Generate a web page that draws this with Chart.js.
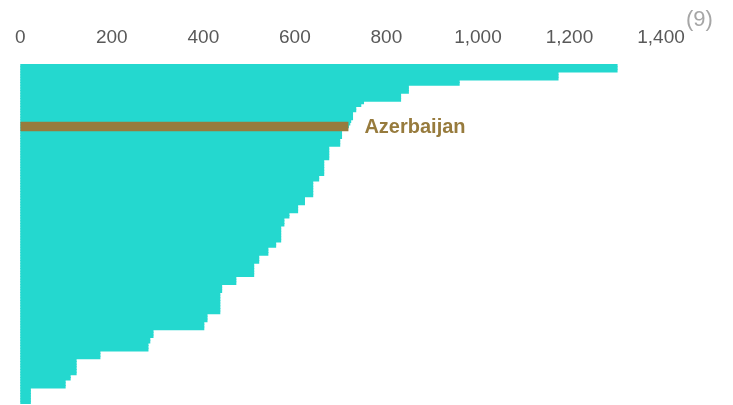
<!DOCTYPE html>
<html>
<head>
<meta charset="utf-8">
<script src="https://cdn.jsdelivr.net/npm/chart.js@4"></script>
<style>
  html, body { margin: 0; padding: 0; background: #ffffff; }
  #wrap { width: 733px; height: 405px; position: relative; }
</style>
</head>
<body>
<div id="wrap"><canvas id="c" width="733" height="405"></canvas></div>
<script>
// ---- data ----
const highlightName = 'Azerbaijan';
const highlightIndex = 23;
const values = [
  1304, 1304, 1304,
  1175, 1175, 1175,
  959, 959,
  848, 848, 848,
  831, 831, 831,
  750,
  744,
  733, 733,
  726, 726, 726,
  722,
  720,
  717,
  707,
  702, 702, 702,
  698, 698, 698,
  674, 674, 674, 674, 674,
  663, 663, 663, 663, 663, 663,
  652, 652,
  639, 639, 639, 639, 639, 639,
  621, 621, 621,
  606, 606, 606,
  587, 587,
  576, 576, 576,
  569, 569, 569, 569, 569, 569,
  558, 558,
  541, 541, 541,
  521, 521, 521,
  510, 510, 510, 510, 510,
  471, 471, 471,
  440, 440, 440,
  436, 436, 436, 436, 436, 436, 436, 436,
  408, 408, 408,
  401, 401, 401,
  290, 290, 290,
  283, 283,
  279, 279, 279,
  174, 174, 174,
  122, 122, 122, 122, 122, 122,
  109, 109,
  98, 98, 98,
  22, 22, 22, 22, 22, 22
];
const categories = values.map((v, i) => i === highlightIndex ? highlightName : 'Rank ' + (i + 1));
const tickValues = [0, 200, 400, 600, 800, 1000, 1200, 1400];
const footnote = '(9)';

const highlightValues = values.map((v, i) => i === highlightIndex ? v : null);

const TEAL = '#24d8cf';
const GOLD = '#977b3d';
const FONT = "'Liberation Sans', Arial, sans-serif";

const labelPlugin = {
  id: 'labels',
  afterDatasetsDraw(chart) {
    const ctx = chart.ctx;
    const meta = chart.getDatasetMeta(1);
    const el = meta.data[highlightIndex];
    if (el) {
      ctx.save();
      ctx.font = "bold 20px 'Liberation Sans', Arial, sans-serif";
      ctx.fillStyle = GOLD;
      ctx.textAlign = 'left';
      ctx.textBaseline = 'middle';
      ctx.fillText(highlightName, el.x + 16, el.y + 1);
      ctx.restore();
    }
    // footnote marker after last tick
    const xs = chart.scales.x;
    ctx.save();
    ctx.font = "22px " + FONT;
    ctx.fillStyle = '#a6a6a6';
    ctx.textAlign = 'left';
    ctx.textBaseline = 'middle';
    ctx.fillText(footnote, xs.getPixelForValue(tickValues[tickValues.length - 1]) + 25, 20);
    ctx.restore();
  }
};

new Chart(document.getElementById('c'), {
  type: 'bar',
  data: {
    labels: categories,
    datasets: [
      {
        data: values,
        backgroundColor: TEAL,
        borderWidth: 0,
        barPercentage: 1,
        categoryPercentage: 1,
        inflateAmount: 0.5,
        grouped: false,
        order: 2
      },
      {
        data: highlightValues,
        backgroundColor: GOLD,
        borderWidth: 0,
        barThickness: 9.5,
        inflateAmount: 0,
        grouped: false,
        order: 1
      }
    ]
  },
  options: {
    indexAxis: 'y',
    responsive: false,
    animation: false,
    events: [],
    layout: { padding: { left: 14, right: 72, top: 0, bottom: 1 } },
    plugins: {
      legend: { display: false },
      tooltip: { enabled: false },
      title: { display: false }
    },
    scales: {
      x: {
        position: 'top',
        min: 0,
        max: 1400,
        afterBuildTicks(scale) { scale.ticks = tickValues.map(v => ({ value: v })); },
        afterFit(scale) { scale.height = 64; },
        grid: { display: false, drawTicks: false },
        border: { display: false },
        ticks: {
          color: '#595959',
          padding: 15,
          font: { family: FONT, size: 19 },
          callback: (v) => v.toLocaleString('en-US')
        }
      },
      y: {
        display: false,
        grid: { display: false }
      }
    }
  },
  plugins: [labelPlugin]
});
</script>
</body>
</html>
